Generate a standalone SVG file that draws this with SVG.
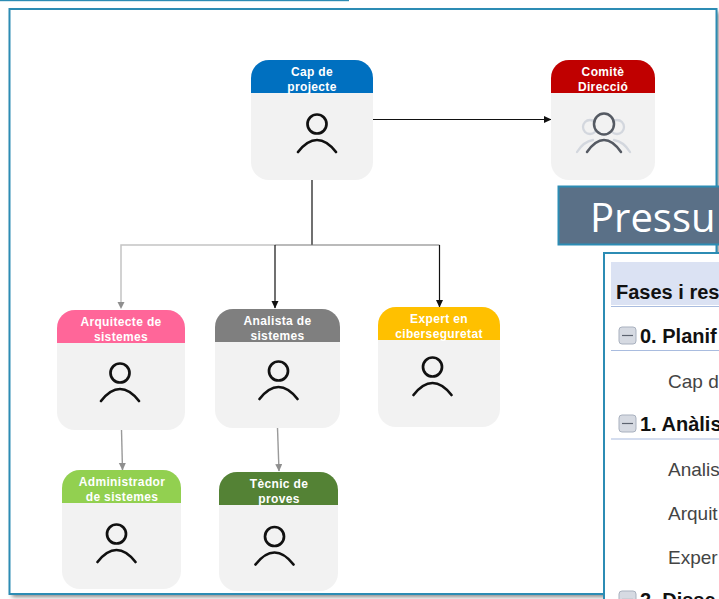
<svg xmlns="http://www.w3.org/2000/svg" width="719" height="599" viewBox="0 0 719 599">
<style>
text{font-family:"Liberation Sans",Arial,sans-serif}
.body{fill:#f2f2f2}
.ht{fill:#fff;font-size:12px;font-weight:700;text-anchor:middle;letter-spacing:.35px}
.ic{fill:none;stroke:#111;stroke-width:2.700;stroke-linecap:round}
.c{fill:none;stroke-width:1.200}
.k{stroke:#111}
.m{stroke:#777}
.l{stroke:#c4c4c4;stroke-width:1.500}
.g{stroke:#9a9a9a;stroke-width:1.400}
.fr{fill:#fff;stroke:#2c8cb4;stroke-width:2}
.s{font-size:20px;fill:#111;font-weight:700}
.r{font-size:19px;fill:#444}
.row{stroke:#a9bcdf;stroke-width:1.200}
.tog{fill:#d6dae2;stroke:#a9b1bf;stroke-width:1}
.tm{stroke:#5d6470;stroke-width:1.200}
</style>
<defs>
<filter id="blur" x="-5%" y="-5%" width="110%" height="110%"><feGaussianBlur stdDeviation="2"/></filter>
<marker id="ak" markerWidth="8" markerHeight="8" refX="7" refY="3.5" orient="auto" markerUnits="userSpaceOnUse"><path d="M0 0L7.500 3.500L0 7Z" fill="#111"/></marker>
<marker id="ag" markerWidth="8" markerHeight="8" refX="7" refY="3.500" orient="auto" markerUnits="userSpaceOnUse"><path d="M0 0L7.500 3.500L0 7Z" fill="#8f8f8f"/></marker>
<g id="person"><circle cx="0" cy="-7" r="9.500" class="ic"/><path d="M-19 21C-12 12 -6 9 0 9C6 9 12 12 19 21" class="ic"/></g>
</defs>
<rect width="719" height="599" fill="#fff"/>
<rect x="0" y="0" width="349" height="1.200" fill="#2c8cb4"/>
<rect x="12" y="12" width="707" height="585" fill="#888" filter="url(#blur)"/>
<rect id="frame" x="9.500" y="9" width="707" height="585" class="fr"/>

<g id="connectors">
<path class="c k" d="M373 119.500H551" marker-end="url(#ak)"/>
<path class="c k" d="M312 180V245"/>
<path class="c l" d="M275 245H121V302"/>
<path class="c m" d="M275 245H439.500"/>
<path class="c k" d="M275 245V308" marker-end="url(#ak)"/>
<path class="c k" d="M439.500 245V307" marker-end="url(#ak)"/>
<path class="c g" d="M121.500 430L122.500 470" marker-end="url(#ag)"/>
<path class="c g" d="M277.500 428L279 471" marker-end="url(#ag)"/>
<path d="M117.500 302L124.500 302L121 309Z" fill="#8f8f8f"/>
</g>

<g id="cap"><rect class="body" x="251" y="60" width="122" height="120" rx="18"/><path fill="#0070c0" d="M251 93V78A18 18 0 0 1 269 60H355A18 18 0 0 1 373 78V93Z"/><text class="ht" x="312" y="76">Cap de</text><text class="ht" x="312" y="91">projecte</text><use href="#person" x="317" y="131"/></g>

<g id="comite"><rect class="body" x="551" y="60" width="104" height="120" rx="18"/><path fill="#c00000" d="M551 93V78A18 18 0 0 1 569 60H637A18 18 0 0 1 655 78V93Z"/><text class="ht" x="603" y="76">Comitè</text><text class="ht" x="603" y="91">Direcció</text>
<g fill="none" stroke="#d3d7de" stroke-width="2.300" stroke-linecap="round"><circle cx="590" cy="127" r="7"/><circle cx="617" cy="127" r="7"/><path d="M577 152C582 144 587 141 593 140"/><path d="M630 152C625 144 620 141 614 140"/></g>
<g fill="none" stroke="#555a63" stroke-width="2.500" stroke-linecap="round"><ellipse cx="604" cy="124" rx="10" ry="10.500" fill="#f2f2f2"/><path d="M587 152C594 142 599 140 604 140C609 140 614 142 621 152"/></g></g>

<g id="arquitecte"><rect class="body" x="57" y="310" width="128" height="120" rx="18"/><path fill="#ff6699" d="M57 343V328A18 18 0 0 1 75 310H167A18 18 0 0 1 185 328V343Z"/><text class="ht" x="121" y="326">Arquitecte de</text><text class="ht" x="121" y="341">sistemes</text><use href="#person" x="120" y="380"/></g>

<g id="analista"><rect class="body" x="215" y="309" width="125" height="119" rx="18"/><path fill="#7f7f7f" d="M215 342V327A18 18 0 0 1 233 309H322A18 18 0 0 1 340 327V342Z"/><text class="ht" x="277.500" y="325">Analista de</text><text class="ht" x="277.500" y="340">sistemes</text><use href="#person" x="278.500" y="378"/></g>

<g id="expert"><rect class="body" x="378" y="307" width="122" height="120" rx="18"/><path fill="#ffc000" d="M378 340V325A18 18 0 0 1 396 307H482A18 18 0 0 1 500 325V340Z"/><text class="ht" x="439" y="323">Expert en</text><text class="ht" x="439" y="338">ciberseguretat</text><use href="#person" x="432.500" y="374"/></g>

<g id="administrador"><rect class="body" x="62" y="470" width="119" height="119" rx="18"/><path fill="#92d050" d="M62 503V488A18 18 0 0 1 80 470H163A18 18 0 0 1 181 488V503Z"/><text class="ht" x="122" y="486">Administrador</text><text class="ht" x="122" y="501">de sistemes</text><use href="#person" x="116.500" y="541"/></g>

<g id="tecnic"><rect class="body" x="219" y="472" width="119" height="119" rx="18"/><path fill="#548235" d="M219 505V490A18 18 0 0 1 237 472H320A18 18 0 0 1 338 490V505Z"/><text class="ht" x="279" y="488">Tècnic de</text><text class="ht" x="279" y="503">proves</text><use href="#person" x="274.500" y="543.500"/></g>

<g id="pressupost"><rect x="558.500" y="186.500" width="170" height="58" fill="#5a7087" stroke="#2c8cb4" stroke-width="2"/><text x="590" y="232" font-size="40" fill="#fff" style="font-family:'Open Sans','Noto Sans',sans-serif">Pressu</text></g>

<g id="panel"><rect x="604" y="253" width="130" height="360" class="fr"/>
<rect x="611" y="262" width="108" height="43" fill="#dbe2f3"/>
<path class="row" d="M611 306.500H719M611 350.500H719M611 439H719"/>
<text class="s" x="616" y="299">Fases i res</text>
<rect class="tog" x="619" y="327" width="17" height="17" rx="3"/><path class="tm" d="M622 335.500H633"/>
<text class="s" x="640" y="343">0. Planif</text>
<text class="r" x="668" y="388">Cap d</text>
<rect class="tog" x="619" y="415" width="17" height="17" rx="3"/><path class="tm" d="M622 423.500H633"/>
<text class="s" x="640" y="431">1. Anàlis</text>
<text class="r" x="668" y="476">Analis</text>
<text class="r" x="668" y="520">Arquit</text>
<text class="r" x="668" y="564">Exper</text>
<rect class="tog" x="619" y="591" width="17" height="17" rx="3"/><path class="tm" d="M622 599.500H633"/>
<text class="s" x="640" y="607">2. Disse</text>
</g>
</svg>
